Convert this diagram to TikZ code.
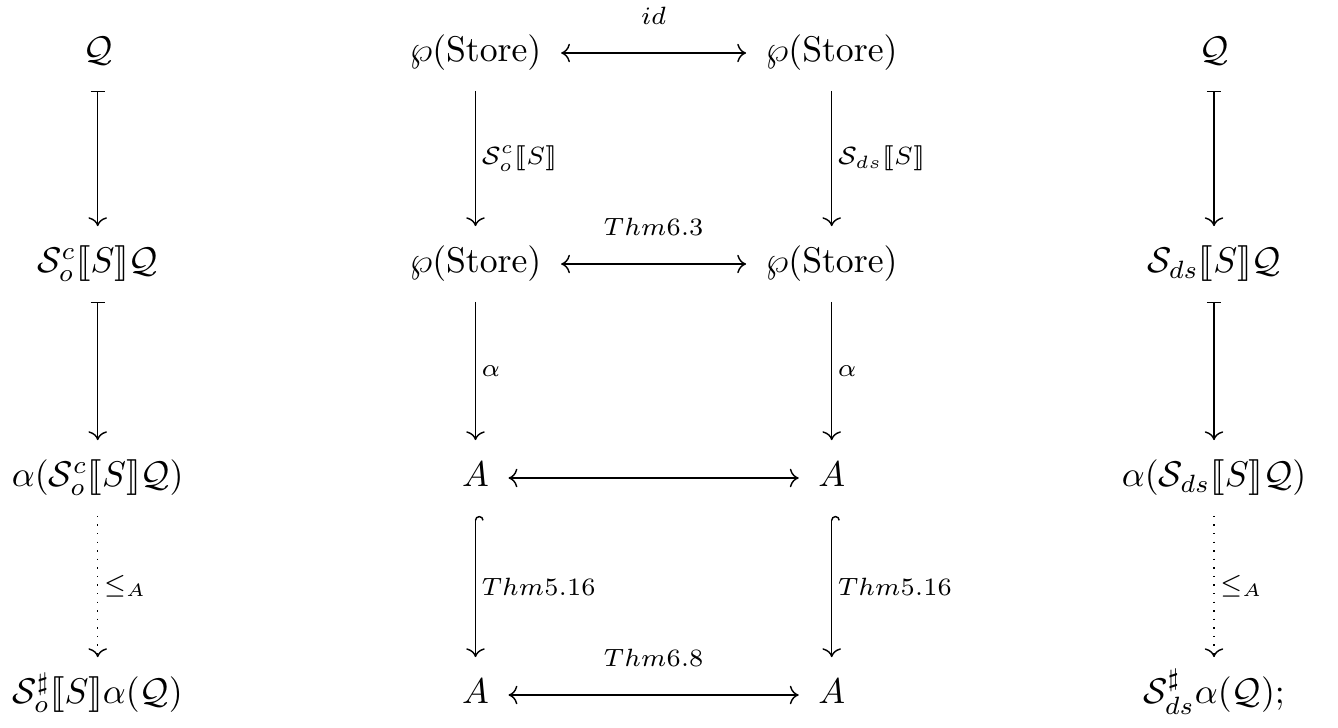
\documentclass[tikz,border=0pt]{standalone}
\usepackage{amsmath}
\usepackage{amssymb}
\usepackage{stmaryrd}
\usetikzlibrary{arrows.meta}

\begin{document}
\begin{tikzpicture}[x=0.28pt, y=-0.28pt,
  obj/.style={inner xsep=5.3pt, inner ysep=0pt, text height=7.5pt, text depth=2.5pt, minimum height=20.8pt},
  cmto/.style={-{Computer Modern Rightarrow}},
  mapto/.style={{Bar[width=4pt]}-{Computer Modern Rightarrow}},
  hookto/.style={{Hooks[right]}-{Computer Modern Rightarrow}},
  both/.style={{Computer Modern Rightarrow}-{Computer Modern Rightarrow}},
  lbl/.style={font=\scriptsize, inner sep=1.5pt}]
\def\ca{97.7}
\def\cb{475.5}
\def\cc{831.7}
\def\cd{1214}
\def\ra{53}
\def\rb{264}
\def\rc{478}
\def\rd{695}

\useasboundingbox (0,0) rectangle (1338,727);

% left column
\node[obj] (L1) at (\ca,\ra) {$\mathcal{Q}$};
\node[obj] (L2) at (\ca,\rb) {$\mathcal{S}^c_o\llbracket S\rrbracket\mathcal{Q}$};
\node[obj] (L3) at (\ca,\rc) {$\alpha(\mathcal{S}^c_o\llbracket S\rrbracket\mathcal{Q})$};
\node[obj] (L4) at (\ca,\rd) {$\mathcal{S}^\sharp_o\llbracket S\rrbracket\alpha(\mathcal{Q})$};

% middle square
\node[obj] (M1) at (\cb,\ra) {$\wp(\mathrm{Store})$};
\node[obj] (M2) at (\cb,\rb) {$\wp(\mathrm{Store})$};
\node[obj] (M3) at (\cb,\rc) {$A$};
\node[obj] (M4) at (\cb,\rd) {$A$};
\node[obj] (N1) at (\cc,\ra) {$\wp(\mathrm{Store})$};
\node[obj] (N2) at (\cc,\rb) {$\wp(\mathrm{Store})$};
\node[obj] (N3) at (\cc,\rc) {$A$};
\node[obj] (N4) at (\cc,\rd) {$A$};

% right column
\node[obj] (R1) at (\cd,\ra) {$\mathcal{Q}$};
\node[obj] (R2) at (\cd,\rb) {$\mathcal{S}_{ds}\llbracket S\rrbracket\mathcal{Q}$};
\node[obj] (R3) at (\cd,\rc) {$\alpha(\mathcal{S}_{ds}\llbracket S\rrbracket\mathcal{Q})$};
\node[obj] (R4) at (\cd,\rd) {$\mathcal{S}^\sharp_{ds}\alpha(\mathcal{Q});$};

\draw[mapto] (L1) -- (L2);
\draw[mapto] (L2) -- (L3);
\draw[cmto, dotted] (L3) -- (L4) node[midway, right, lbl] {$\leq_A$};

\draw[mapto] (R1) -- (R2);
\draw[mapto] (R2) -- (R3);
\draw[cmto, dotted] (R3) -- (R4) node[midway, right, lbl] {$\leq_A$};

\draw[both] (M1) -- (N1) node[midway, above=6.3pt, lbl] {$id$};
\draw[both] (M2) -- (N2) node[midway, above=6.3pt, lbl] {$Thm6.3$};
\draw[both] (M3) -- (N3);
\draw[both] (M4) -- (N4) node[midway, above=6.3pt, lbl] {$Thm6.8$};

\draw[cmto] (M1) -- (M2) node[midway, right, lbl] {$\mathcal{S}^c_o\llbracket S\rrbracket$};
\draw[cmto] (N1) -- (N2) node[midway, right, lbl] {$\mathcal{S}_{ds}\llbracket S\rrbracket$};
\draw[cmto] (M2) -- (M3) node[midway, right, lbl] {$\alpha$};
\draw[cmto] (N2) -- (N3) node[midway, right, lbl] {$\alpha$};
\draw[hookto] (M3) -- (M4) node[midway, right, lbl] {$Thm5.16$};
\draw[hookto] (N3) -- (N4) node[midway, right, lbl] {$Thm5.16$};
\end{tikzpicture}
\end{document}
